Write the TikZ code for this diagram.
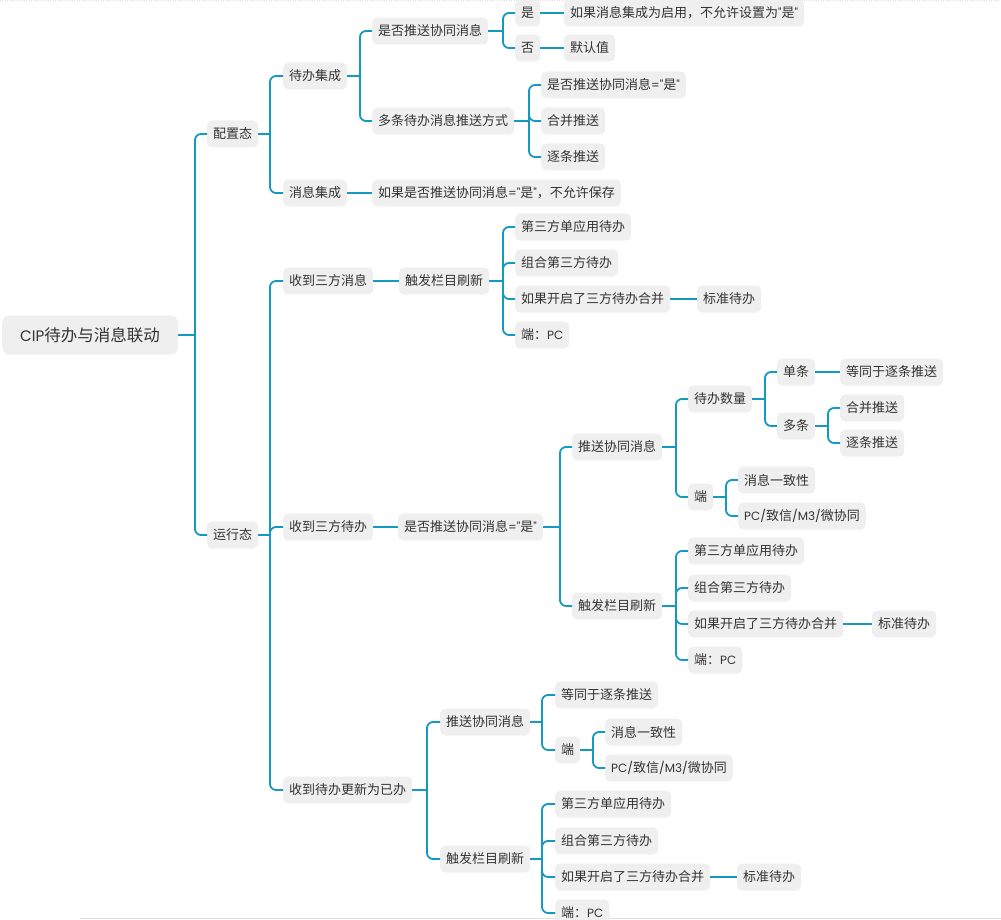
\documentclass[tikz,border=0pt]{standalone}
\usepackage{fontspec}
\setmainfont{Noto Sans CJK SC}
\newfontfamily\lat[Scale=0.92]{Poppins}
\newcommand\qt{{\lat "}}
\definecolor{edgec}{HTML}{1499C0}
\definecolor{boxc}{HTML}{EFEFEF}
\definecolor{txtc}{HTML}{333333}
\tikzset{
  box/.style={fill=boxc, rounded corners=5pt, inner xsep=6pt, inner ysep=0pt,
    minimum height=27pt, anchor=west, text=txtc, font=\fontsize{13}{15}\selectfont},
  rootbox/.style={box, rounded corners=7pt, inner xsep=18pt, minimum height=39pt,
    font=\fontsize{16.5}{18}\selectfont},
  edge/.style={draw=edgec, line width=1.8pt},
}
\newcommand\mmfan[3]{%
  \coordinate (vv) at (#2,0);
  \draw[edge] (#1.east) -- (vv |- #1.east);
  \foreach \kk in {#3}{\draw[edge,rounded corners=6pt] (vv |- #1.east) |- (\kk.west);}
}
\newcommand\mmline[2]{\draw[edge] (#1.east) -- (#2.west);}
\begin{document}
\begin{tikzpicture}[x=1pt,y=-1pt]
\useasboundingbox (0,0) rectangle (1001,920);
\clip (0,0) rectangle (1001,920);
\draw[gray!25, dotted] (0,0.6) -- (1001,0.6);
\draw[gray!25, line width=1pt] (80,918.5) -- (1001,918.5);
% root
\node[rootbox] (r) at (2,335) {{\lat CIP}待办与消息联动};
\node[box] (a1) at (207,134) {配置态};
\node[box] (a2) at (207,535) {运行态};
% config
\node[box] (b1) at (283,76) {待办集成};
\node[box] (b2) at (283,193) {消息集成};
\node[box] (c1) at (372,31) {是否推送协同消息};
\node[box] (c2) at (372,121) {多条待办消息推送方式};
\node[box] (c3) at (372,193) {如果是否推送协同消息{\lat =}\qt 是\qt，不允许保存};
\node[box] (d1) at (515,13) {是};
\node[box] (d2) at (515,48) {否};
\node[box] (e1) at (564,13) {如果消息集成为启用，不允许设置为\qt 是\qt};
\node[box] (e2) at (564,48) {默认值};
\node[box] (f1) at (541,85) {是否推送协同消息{\lat =}\qt 是\qt};
\node[box] (f2) at (541,121) {合并推送};
\node[box] (f3) at (541,157) {逐条推送};
% run
\node[box] (g1) at (283,281) {收到三方消息};
\node[box] (g2) at (283,527) {收到三方待办};
\node[box] (g3) at (283,790) {收到待办更新为已办};
\node[box] (h1) at (399,281) {触发栏目刷新};
\node[box] (i1) at (515,227) {第三方单应用待办};
\node[box] (i2) at (515,263) {组合第三方待办};
\node[box] (i3) at (515,299) {如果开启了三方待办合并};
\node[box] (i4) at (515,335) {端：{\lat PC}};
\node[box] (i5) at (697,299) {标准待办};
\node[box] (j1) at (398,527) {是否推送协同消息{\lat =}\qt 是\qt};
\node[box] (k1) at (572,447) {推送协同消息};
\node[box] (k2) at (572,606) {触发栏目刷新};
\node[box] (l1) at (688,399) {待办数量};
\node[box] (l2) at (688,497) {端};
\node[box] (m1) at (777,372) {单条};
\node[box] (m2) at (777,426) {多条};
\node[box] (n1) at (840,372) {等同于逐条推送};
\node[box] (n2) at (840,408) {合并推送};
\node[box] (n3) at (840,443) {逐条推送};
\node[box] (o1) at (738,480) {消息一致性};
\node[box] (o2) at (738,516) {{\lat PC/}致信{\lat /M3/}微协同};
\node[box] (p1) at (688,551) {第三方单应用待办};
\node[box] (p2) at (688,588) {组合第三方待办};
\node[box] (p3) at (688,624) {如果开启了三方待办合并};
\node[box] (p4) at (688,660) {端：{\lat PC}};
\node[box] (p5) at (872,624) {标准待办};
\node[box] (q1) at (440,722) {推送协同消息};
\node[box] (q2) at (440,859) {触发栏目刷新};
\node[box] (s1) at (555,695) {等同于逐条推送};
\node[box] (s2) at (555,750) {端};
\node[box] (t1) at (605,732) {消息一致性};
\node[box] (t2) at (605,768) {{\lat PC/}致信{\lat /M3/}微协同};
\node[box] (u1) at (555,804) {第三方单应用待办};
\node[box] (u2) at (555,841) {组合第三方待办};
\node[box] (u3) at (555,877) {如果开启了三方待办合并};
\node[box] (u4) at (555,913) {端：{\lat PC}};
\node[box] (u5) at (737,877) {标准待办};
% connectors
\mmfan{r}{195}{a1,a2}
\mmfan{a1}{270}{b1,b2}
\mmfan{a2}{270}{g1,g2,g3}
\mmfan{b1}{360}{c1,c2}
\mmline{b2}{c3}
\mmfan{c1}{503}{d1,d2}
\mmline{d1}{e1}
\mmline{d2}{e2}
\mmfan{c2}{529}{f1,f2,f3}
\mmline{g1}{h1}
\mmfan{h1}{503}{i1,i2,i3,i4}
\mmline{i3}{i5}
\mmline{g2}{j1}
\mmfan{j1}{560}{k1,k2}
\mmfan{k1}{676}{l1,l2}
\mmfan{l1}{765}{m1,m2}
\mmline{m1}{n1}
\mmfan{m2}{828}{n2,n3}
\mmfan{l2}{726}{o1,o2}
\mmfan{k2}{676}{p1,p2,p3,p4}
\mmline{p3}{p5}
\mmfan{g3}{427}{q1,q2}
\mmfan{q1}{542}{s1,s2}
\mmfan{s2}{593}{t1,t2}
\mmfan{q2}{542}{u1,u2,u3,u4}
\mmline{u3}{u5}
\end{tikzpicture}
\end{document}
